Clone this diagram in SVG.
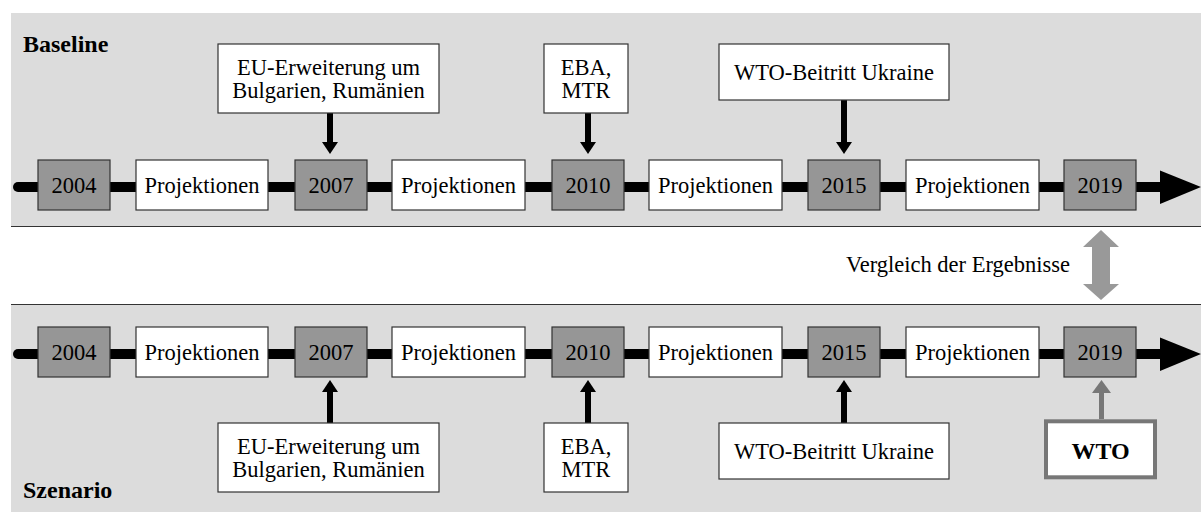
<svg xmlns="http://www.w3.org/2000/svg" width="1201" height="512" viewBox="0 0 1201 512">
<style>
.t{font-size:22.5px;text-anchor:middle}
.title{font-size:24px;font-weight:bold}
.yr{fill:#969696;stroke:#333;stroke-width:1.2}
.wb{fill:#fff;stroke:#333;stroke-width:1.2}
.tl{stroke:#000;stroke-width:10;stroke-linecap:round;fill:none}
.ar{stroke:#000;stroke-width:6;fill:none}
.ag{stroke:#777;stroke-width:5;fill:none}
</style>
<defs>
<marker id="mb" markerUnits="userSpaceOnUse" markerWidth="12" markerHeight="16" viewBox="0 0 12 16" refX="0" refY="8" orient="auto">
<path d="M0,0 L12,8 L0,16 Z" fill="#000"/>
</marker>
<marker id="mg" markerUnits="userSpaceOnUse" markerWidth="13" markerHeight="19" viewBox="0 0 13 19" refX="0" refY="9.5" orient="auto">
<path d="M0,0 L13,9.5 L0,19 Z" fill="#777"/>
</marker>
</defs>
<rect width="1201" height="512" fill="#fff"/>
<g font-family="'Liberation Serif', 'Times New Roman', Times, serif" fill="#000">
<g id="panels">
<rect x="11" y="13" width="1190" height="213" fill="#dcdcdc"/>
<line x1="11" y1="226.5" x2="1201" y2="226.5" stroke="#333" stroke-width="1.2"/>
<rect x="11" y="304" width="1190" height="208" fill="#dcdcdc"/>
<line x1="11" y1="304.5" x2="1201" y2="304.5" stroke="#333" stroke-width="1.2"/>
<text class="title" x="23" y="52">Baseline</text>
<text class="title" x="23" y="498">Szenario</text>
</g>
<g id="connectors">
<line class="tl" x1="18" y1="187" x2="1162" y2="187"/>
<polygon points="1160,170.5 1201,187 1160,204" fill="#000"/>
<line class="tl" x1="18" y1="354" x2="1162" y2="354"/>
<polygon points="1160,337.5 1201,354 1160,371" fill="#000"/>
<line class="ar" x1="330" y1="113" x2="330" y2="142" marker-end="url(#mb)"/>
<line class="ar" x1="588" y1="113" x2="588" y2="142" marker-end="url(#mb)"/>
<line class="ar" x1="844" y1="100" x2="844" y2="142" marker-end="url(#mb)"/>
<line class="ar" x1="330" y1="423" x2="330" y2="392" marker-end="url(#mb)"/>
<line class="ar" x1="588" y1="423" x2="588" y2="392" marker-end="url(#mb)"/>
<line class="ar" x1="844" y1="423" x2="844" y2="392" marker-end="url(#mb)"/>
<line class="ag" x1="1101.5" y1="419" x2="1101.5" y2="393" marker-end="url(#mg)"/>
<polygon points="1101,230 1119,247 1110,247 1110,284 1119,284 1101,300 1083,284 1092,284 1092,247 1083,247" fill="#999"/>
<text class="t" x="958" y="272">Vergleich der Ergebnisse</text>
</g>
<g id="top-timeline">
<g id="b2004"><rect class="yr" x="38" y="160" width="72" height="50"/><text class="t" x="74" y="193">2004</text></g>
<g id="bp1"><rect class="wb" x="136" y="160" width="132" height="50"/><text class="t" x="202" y="193">Projektionen</text></g>
<g id="b2007"><rect class="yr" x="295" y="160" width="72" height="50"/><text class="t" x="331" y="193">2007</text></g>
<g id="bp2"><rect class="wb" x="392" y="160" width="133" height="50"/><text class="t" x="458.5" y="193">Projektionen</text></g>
<g id="b2010"><rect class="yr" x="552" y="160" width="72" height="50"/><text class="t" x="588" y="193">2010</text></g>
<g id="bp3"><rect class="wb" x="649" y="160" width="133" height="50"/><text class="t" x="715.5" y="193">Projektionen</text></g>
<g id="b2015"><rect class="yr" x="808" y="160" width="72" height="50"/><text class="t" x="844" y="193">2015</text></g>
<g id="bp4"><rect class="wb" x="906" y="160" width="133" height="50"/><text class="t" x="972.5" y="193">Projektionen</text></g>
<g id="b2019"><rect class="yr" x="1064" y="160" width="72" height="50"/><text class="t" x="1100" y="193">2019</text></g>
</g>
<g id="top-events">
<g id="eu-top"><rect class="wb" x="218" y="44" width="221" height="69"/><text class="t" x="328.5" y="75">EU-Erweiterung um</text><text class="t" x="328.5" y="98">Bulgarien, Rumänien</text></g>
<g id="eba-top"><rect class="wb" x="544" y="44" width="84" height="69"/><text class="t" x="586" y="75">EBA,</text><text class="t" x="586" y="98">MTR</text></g>
<g id="wto-top"><rect class="wb" x="719" y="44" width="230" height="56"/><text class="t" x="834" y="80">WTO-Beitritt Ukraine</text></g>
</g>
<g id="bottom-timeline">
<g id="s2004"><rect class="yr" x="38" y="327" width="72" height="50"/><text class="t" x="74" y="360">2004</text></g>
<g id="sp1"><rect class="wb" x="136" y="327" width="132" height="50"/><text class="t" x="202" y="360">Projektionen</text></g>
<g id="s2007"><rect class="yr" x="295" y="327" width="72" height="50"/><text class="t" x="331" y="360">2007</text></g>
<g id="sp2"><rect class="wb" x="392" y="327" width="133" height="50"/><text class="t" x="458.5" y="360">Projektionen</text></g>
<g id="s2010"><rect class="yr" x="552" y="327" width="72" height="50"/><text class="t" x="588" y="360">2010</text></g>
<g id="sp3"><rect class="wb" x="649" y="327" width="133" height="50"/><text class="t" x="715.5" y="360">Projektionen</text></g>
<g id="s2015"><rect class="yr" x="808" y="327" width="72" height="50"/><text class="t" x="844" y="360">2015</text></g>
<g id="sp4"><rect class="wb" x="906" y="327" width="133" height="50"/><text class="t" x="972.5" y="360">Projektionen</text></g>
<g id="s2019"><rect class="yr" x="1064" y="327" width="72" height="50"/><text class="t" x="1100" y="360">2019</text></g>
</g>
<g id="bottom-events">
<g id="eu-bot"><rect class="wb" x="218" y="423" width="221" height="69"/><text class="t" x="328.5" y="454">EU-Erweiterung um</text><text class="t" x="328.5" y="477">Bulgarien, Rumänien</text></g>
<g id="eba-bot"><rect class="wb" x="544" y="423" width="84" height="69"/><text class="t" x="586" y="454">EBA,</text><text class="t" x="586" y="477">MTR</text></g>
<g id="wto-bot"><rect class="wb" x="719" y="423" width="230" height="56"/><text class="t" x="834" y="459">WTO-Beitritt Ukraine</text></g>
<g id="wto"><rect x="1046" y="421.3" width="109" height="56" fill="#fff" stroke="#777" stroke-width="4"/><text x="1100.5" y="459" font-size="24" font-weight="bold" text-anchor="middle">WTO</text></g>
</g>
</g>
</svg>
